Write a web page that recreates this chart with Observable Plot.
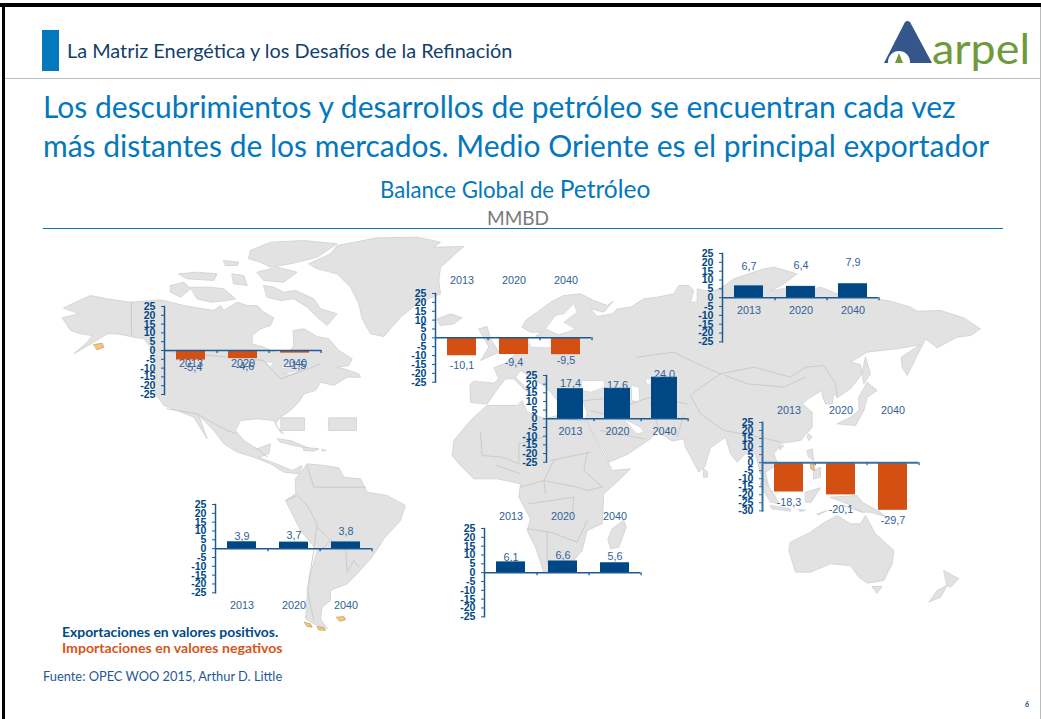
<!DOCTYPE html>
<html lang="es">
<head>
<meta charset="utf-8">
<script src="https://cdn.jsdelivr.net/npm/d3@7"></script>
<script src="https://cdn.jsdelivr.net/npm/@observablehq/plot@0.6"></script>
<style>
  html, body { margin: 0; padding: 0; background: #fff; }
  #page { position: relative; width: 1041px; height: 719px; overflow: hidden; font-family: Lato, "Open Sans", sans-serif; }
  #page > svg { position: absolute; max-width: none; }
  .t { position: absolute; white-space: nowrap; line-height: 1; }
  .box { position: absolute; }
</style>
</head>
<body>
<div id="page">
  <div class="box" style="left:0;top:3px;width:1041px;height:4px;background:#000"></div>
  <div class="box" style="left:2px;top:3px;width:3px;height:716px;background:#000"></div>
  <div class="box" style="left:1040px;top:7px;width:1px;height:712px;background:#bbb"></div>
  <div class="box" style="left:42px;top:30px;width:17px;height:41px;background:#0478bd"></div>
  <div class="box" style="left:5px;top:78px;width:1035px;height:1px;background:#bdbdbd"></div>
  <div class="t" id="head" style="left:67px;top:41px;font-size:19.9px;color:#123f6d">La Matriz Energética y los Desafíos de la Refinación</div>
  <div class="t" id="l1" style="left:43px;top:91px;font-size:30px;color:#0478bd">Los descubrimientos y desarrollos de petróleo se encuentran cada vez</div>
  <div class="t" id="l2" style="left:43px;top:130px;font-size:30px;color:#0478bd">más distantes de los mercados. Medio Oriente es el principal exportador</div>
  <div class="t" id="sub" style="left:380px;top:177px;font-size:22.2px;color:#0478bd">Balance Global de <span style="font-size:24.5px">Petróleo</span></div>
  <div class="t" id="mm" style="left:487px;top:208px;font-size:19px;color:#7a7a7a">MMBD</div>
  <div class="box" style="left:43px;top:228px;width:960px;height:1px;background:#0c74b5"></div>
  <div class="t" style="left:62px;top:625px;font-size:13.9px;font-weight:700;color:#004a87">Exportaciones en valores positivos.</div>
  <div class="t" style="left:62px;top:641px;font-size:14.1px;font-weight:700;color:#d8541a">Importaciones en valores negativos</div>
  <div class="t" style="left:43px;top:670px;font-size:12.85px;color:#1d5a96">Fuente: OPEC WOO 2015, Arthur D. Little</div>
  <div class="t" style="left:1025px;top:701px;font-size:7px;font-weight:700;color:#004a87">6</div>
  <svg style="left:880px;top:15px" width="155" height="62" viewBox="880 15 155 62" role="img" aria-label="arpel">
    <path d="M905 22 Q907 20 910 22 L932 63 L884 63 Z" fill="#34568b"/>
    <circle cx="899" cy="62" r="11" fill="#fff"/>
    <path d="M899 53 L903 63 L895 63 Z" fill="#6f9a3c"/>
    <text x="932" y="64" font-family="Lato, sans-serif" font-weight="400" font-size="42" fill="#6f9a3c" textLength="98" lengthAdjust="spacingAndGlyphs">arpel</text>
  </svg>
</div>
<script>
// ---------- values ----------
const years = ["2013", "2020", "2040"];
const northAmerica = [-5.4, -4.6, -1.5];
const europe = [-10.1, -9.4, -9.5];
const russia = [6.7, 6.4, 7.9];
const middleEast = [17.4, 17.6, 24.0];
const asia = [-18.3, -20.1, -29.7];
const southAmerica = [3.9, 3.7, 3.8];
const africa = [6.1, 6.6, 5.6];

// ---------- map outlines (3x crop units) ----------
const at = (ox, oy, pts) => pts.map(([x, y]) => [ox + x / 3, oy + y / 3]);
const W = (p) => at(50, 230, p);   // Americas crop
const M = (p) => at(430, 230, p);  // Europe-Africa crop
const E = (p) => at(690, 240, p);  // East crop

const land = [
  W([[40,232],[75,215],[120,195],[170,205],[240,215],[330,208],[360,215],[400,225],[440,232],[490,240],[510,225],[520,240],[560,215],[590,225],[620,225],[640,245],[670,262],[660,285],[630,295],[605,315],[605,340],[640,350],[665,362],[690,368],[720,360],[730,345],[728,300],[760,295],[800,318],[835,325],[865,360],[905,385],[895,405],[860,410],[880,415],[925,430],[930,440],[890,440],[850,465],[810,455],[795,480],[760,490],[745,515],[720,540],[690,560],[675,580],[690,605],[700,610],[680,590],[670,570],[620,565],[570,570],[555,600],[580,630],[620,655],[660,640],[655,670],[625,680],[690,705],[725,720],[755,705],[745,730],[700,725],[660,700],[610,680],[560,665],[520,640],[490,600],[445,555],[470,625],[430,560],[380,540],[340,525],[315,490],[310,460],[315,400],[300,350],[280,325],[250,320],[200,310],[170,310],[130,335],[70,370],[110,335],[125,315],[90,310],[60,300],[35,262],[85,250]]),
  W([[735,745],[770,700],[825,705],[865,712],[880,740],[930,745],[950,785],[1010,795],[1065,825],[1050,870],[1000,925],[985,950],[960,985],[920,1030],[890,1060],[840,1080],[840,1110],[815,1130],[810,1165],[830,1195],[790,1180],[765,1165],[770,1100],[780,1030],[800,960],[750,900],[715,830],[705,810],[735,790]]),
  W([[775,100],[840,70],[860,45],[980,22],[1100,20],[1170,35],[1150,50],[1240,48],[1210,75],[1170,110],[1165,150],[1170,190],[1100,220],[1050,260],[1000,318],[960,310],[935,265],[925,220],[900,170],[860,130],[800,115]]),
  W([[640,165],[670,170],[700,185],[735,180],[790,205],[810,235],[860,250],[830,285],[800,260],[770,230],[730,205],[690,210],[650,200]]),
  W([[420,170],[480,170],[520,175],[555,205],[530,210],[480,215],[440,205]]),
  W([[360,165],[400,155],[420,175],[390,200],[360,185]]),
  W([[600,60],[660,35],[760,30],[860,40],[800,80],[720,100],[660,110],[630,95],[595,85]]),
  W([[620,125],[680,110],[740,125],[700,155],[640,150]]),
  W([[520,90],[565,95],[560,105],[525,105]]),
  W([[385,130],[440,125],[500,130],[490,150],[410,145]]),
  W([[545,130],[580,135],[590,165],[550,160]]),
  W([[680,625],[720,630],[780,655],[730,645],[690,635]]),
  W([[760,650],[805,655],[790,662],[760,660]]),
  W([[815,657],[828,660],[815,661]]),
  W([[692,562],[762,562],[762,600],[692,600]]),
  W([[835,562],[918,562],[918,600],[835,600]]),
  M([[20,265],[60,250],[95,262],[70,280],[30,285]]),
  M([[145,295],[170,288],[180,325],[205,365],[150,390],[175,350]]),
  [
    ...M([[120,515],[118,462],[130,452],[190,458],[205,445],[190,412],[225,398],[255,370],[275,345],[312,338],[318,315],[335,305],[300,305],[275,290],[285,270],[320,245],[360,215],[400,195],[450,190],[490,210],[530,225],[548,212],[520,245],[480,235],[500,258],[545,250],[560,235],[600,230],[640,205],[680,200],[730,190],[745,165],[775,165],[790,180],[780,215],[800,215]]),
    ...E([[20,145],[40,150],[70,150],[95,140],[130,115],[220,85],[250,80],[320,100],[280,130],[240,152],[300,140],[330,155],[390,140],[440,160],[530,170],[600,182],[660,200],[680,212],[750,210],[820,232],[870,265],[840,285],[800,290],[740,322],[705,295],[680,345],[650,405],[635,380],[632,350],[690,312],[640,322],[590,328],[530,335],[480,365],[510,372],[515,400],[480,445],[440,472],[430,458],[425,490],[405,490],[395,465],[395,450],[360,470],[335,490],[365,515],[365,560],[330,600],[275,608],[250,640],[262,672],[225,695],[235,740],[210,700],[195,640],[165,640],[140,665],[120,640],[105,590],[60,622],[42,680],[25,695]]),
    ...M([[765,650],[760,625],[725,632],[680,602],[660,625],[590,672],[535,695],[525,670],[485,605],[465,575],[470,545],[460,520],[400,520],[380,510],[365,490],[345,470],[310,445],[270,420],[255,440],[310,495],[285,480],[250,445],[225,445],[205,470],[170,520]])
  ],
  M([[170,525],[260,525],[275,510],[290,545],[345,565],[380,555],[440,570],[470,570],[480,600],[525,680],[545,720],[600,715],[570,745],[520,790],[515,880],[470,900],[455,960],[400,1025],[340,1025],[315,950],[290,900],[300,865],[265,800],[270,760],[200,745],[130,745],[85,700],[65,675],[70,630],[120,570]]),
  M([[580,870],[587,890],[565,950],[540,955],[532,925],[545,895]]),
  E([[525,350],[540,400],[520,430],[515,400]]),
  E([[505,470],[530,425],[560,450],[530,470],[520,510],[495,555],[440,550],[480,530],[505,510]]),
  E([[355,580],[365,590],[355,600],[350,590]]),
  E([[265,620],[280,615],[270,628]]),
  E([[40,685],[52,695],[50,710],[40,710]]),
  E([[350,630],[365,625],[370,660],[355,650]]),
  E([[370,690],[390,680],[390,710],[370,715]]),
  E([[345,755],[390,742],[362,785],[345,785]]),
  E([[215,710],[250,760],[265,790],[240,785],[210,735]]),
  E([[240,795],[300,805],[300,812],[245,805]]),
  E([[325,807],[345,809],[330,813]]),
  E([[380,820],[410,810],[385,823]]),
  E([[420,770],[500,765],[515,785],[560,810],[590,830],[540,815],[515,815],[470,790]]),
  E([[300,905],[360,875],[395,850],[440,825],[480,850],[510,850],[525,825],[555,880],[610,930],[605,970],[580,1020],[530,1028],[505,1010],[480,975],[420,970],[360,995],[315,995],[295,930]]),
  E([[545,1038],[575,1038],[560,1058]]),
  E([[760,990],[805,1015],[780,1040],[770,1035]]),
  E([[770,1035],[750,1070],[715,1085],[740,1050]])
];

const seas = [
  M([[345,295],[375,255],[400,250],[430,220],[440,245],[400,275],[435,295],[415,303],[385,312]]),
  M([[295,322],[362,322],[362,352],[300,350]]),
  M([[453,450],[520,450],[522,470],[480,485],[455,480]]),
  M([[603,465],[625,470],[628,515],[605,510]]),
  M([[645,445],[665,445],[660,462],[648,460]]),
  M([[580,565],[630,590],[640,605],[620,610],[600,590]]),
  W([[640,395],[670,395],[660,410]]),
  W([[690,405],[735,400],[700,415]]),
  W([[700,430],[740,420],[760,415],[720,432]])
];

const borders = [
  W([[243,215],[243,315]]),
  W([[345,362],[640,390],[690,445],[760,420],[810,400]]),
  W([[350,535],[440,550],[510,590],[555,610]]),
  W([[620,655],[650,680]]),
  W([[770,705],[790,770],[800,770],[870,770],[945,770]]),
  W([[705,810],[740,795],[770,825],[800,880],[790,960],[770,1080],[790,1170]]),
  W([[800,890],[840,930],[885,945],[890,1025],[910,990],[925,1010]]),
  W([[840,930],[810,960]]),
  M([[150,605],[155,675],[215,680],[265,700],[265,640],[340,620]]),
  M([[360,690],[480,665]]),
  M([[370,690],[340,750],[345,790]]),
  M([[200,705],[270,730]]),
  M([[270,770],[340,750],[440,770],[470,780],[515,770]]),
  M([[295,820],[430,800],[425,860]]),
  M([[290,895],[360,905],[440,935],[470,870]]),
  M([[350,905],[350,1000]]),
  M([[470,665],[460,720],[515,770]]),
  M([[660,520],[690,610]]),
  M([[600,520],[660,500],[770,520]]),
  M([[760,550],[740,620]]),
  M([[620,380],[730,365],[790,395],[870,430]]),
  M([[400,520],[465,510],[570,500],[600,520]]),
  M([[480,540],[575,565]]),
  M([[510,600],[640,625]]),
  E([[90,400],[190,380],[300,410],[345,380],[400,375],[435,430],[440,470]]),
  E([[105,405],[170,430],[280,440],[345,410]]),
  E([[90,400],[30,440],[0,465],[30,520],[100,570],[210,590],[270,605]]),
  E([[460,795],[515,815]])
];

const specks = [
  W([[130,342],[155,338],[160,350],[140,358]]),
  W([[762,1175],[780,1180],[785,1190],[770,1188]]),
  W([[800,1188],[820,1192],[825,1200],[805,1198]]),
  W([[858,1160],[880,1158],[885,1168],[868,1172]]),
  E([[360,672],[370,672],[372,690],[362,686]])
];

const toRows = (polys) => polys.flatMap((pts, id) => pts.map(([x, y]) => ({id, x, y})));

const page = document.getElementById("page");

const mapPlot = Plot.plot({
  width: 1041, height: 719, margin: 0,
  style: {background: "transparent"},
  x: {domain: [0, 1041], range: [0, 1041], axis: null},
  y: {domain: [0, 719], range: [0, 719], axis: null},
  marks: [
    Plot.line(toRows(land), {x: "x", y: "y", z: "id", curve: "linear-closed", fill: "#e3e2e3", stroke: "#d0cfd0", strokeWidth: 0.8}),
    Plot.line(toRows(seas), {x: "x", y: "y", z: "id", curve: "linear-closed", fill: "#fff", stroke: "#d0cfd0", strokeWidth: 0.6}),
    Plot.line(toRows(borders), {x: "x", y: "y", z: "id", stroke: "#c8c7c8", strokeWidth: 0.9}),
    Plot.line(toRows(specks), {x: "x", y: "y", z: "id", curve: "linear-closed", fill: "#f5c77e", stroke: "#b07a2a", strokeWidth: 0.5})
  ]
});
mapPlot.style.left = "0px"; mapPlot.style.top = "0px";
page.insertBefore(mapPlot, page.firstChild);

// ---------- inset layout (page pixels), kept apart from the values ----------
const insets = [
  {values: northAmerica, x0: 164, x1: 321, top: 306, bottom: 394, min: -25, yearY: 363.5, labelY: [367.5, 366.5, 365.5], labelDx: 2, axis: "#1c5a96", axisWidth: 1.5},
  {values: europe, x0: 434.7, x1: 591, top: 293, bottom: 381.7, min: -25, yearY: 280, labelY: [365, 362, 360], labelDx: 0, axis: "#1c5a96", axisWidth: 1.5},
  {values: russia, x0: 722, x1: 878.3, top: 253.3, bottom: 341.7, min: -25, yearY: 310.5, labelY: [266.5, 265.5, 262.5], labelDx: 0, axis: "#1c5a96", axisWidth: 1.5},
  {values: middleEast, x0: 545.7, x1: 687.3, top: 375, bottom: 461.7, min: -25, yearY: 431.5, labelY: [383.5, 385, 374.5], labelDx: 0, axis: "#1c5a96", axisWidth: 1.5},
  {values: asia, x0: 762.3, x1: 919, top: 421.7, bottom: 510, min: -30, yearY: 409.5, labelY: [501.5, 508.5, 520], labelDx: 0, axis: "#3a6fa5", axisWidth: 2},
  {values: southAmerica, x0: 214.7, x1: 371.3, top: 503.7, bottom: 592, min: -25, yearY: 604.5, labelY: [535.5, 534.5, 530.5], labelDx: 0, axis: "#1c5a96", axisWidth: 1.5},
  {values: africa, x0: 484, x1: 640.3, top: 527.7, bottom: 616, min: -25, yearY: 515.5, labelY: [556.5, 555, 555.5], labelDx: 0, axis: "#1c5a96", axisWidth: 1.5}
];

const barBlue = "#004885", barOrange = "#d34f12", textBlue = "#2f6198";
const sans = "Liberation Sans, Arial, sans-serif";
const comma = (v) => Math.abs(v).toFixed(1).replace(".", ",");

for (const g of insets) {
  const ml = 34, mr = 6, mt = 20, mb = 22;
  const w = g.x1 - g.x0, h = g.bottom - g.top;
  const k = h / (25 - g.min);           // pixels per MMBD
  const zero = g.top + 25 * k;
  const toY = (py) => (zero - py) / k;  // page pixel to value on this inset's y scale
  const rows = years.map((year, i) => ({year, value: g.values[i], labelAt: toY(g.labelY[i])}));
  const step = w / 3;
  const plot = Plot.plot({
    width: w + ml + mr, height: h + mt + mb,
    marginLeft: ml, marginRight: mr, marginTop: mt, marginBottom: mb,
    style: {background: "transparent", overflow: "visible"},
    x: {domain: years, axis: null, paddingInner: 0.45, paddingOuter: 0.225, align: 0.5},
    y: {domain: [g.min, 25], axis: null},
    marks: [
      Plot.barY(rows, {x: "year", y: "value", fill: (d) => d.value < 0 ? barOrange : barBlue}),
      Plot.ruleY([0], {stroke: g.axis, strokeWidth: g.axisWidth}),
      Plot.ruleX(years, {x: (d) => d, y1: 0, y2: -3 / k, dx: step / 2, stroke: g.axis, strokeWidth: 1.3}),
      Plot.frame({anchor: "left", stroke: g.axis, strokeWidth: g.axisWidth}),
      Plot.axisY({
        anchor: "left", ticks: d3.range(g.min, 26, 5), tickSize: 3, tickPadding: 6,
        tickFormat: (d) => String(d), stroke: g.axis, color: barBlue,
        fontSize: 10.6, fontWeight: 700, fontFamily: sans, label: null
      }),
      Plot.text(rows, {x: "year", y: () => toY(g.yearY), text: "year", fill: textBlue, fontSize: 10.8, fontFamily: sans}),
      Plot.text(rows, {x: "year", y: "labelAt", dx: g.labelDx, text: (d) => (d.value < 0 ? "-" : "") + comma(d.value), fill: textBlue, fontSize: 10.8, fontFamily: sans})
    ]
  });
  plot.style.left = (g.x0 - ml) + "px";
  plot.style.top = (g.top - mt) + "px";
  page.appendChild(plot);
}
</script>
</body>
</html>
